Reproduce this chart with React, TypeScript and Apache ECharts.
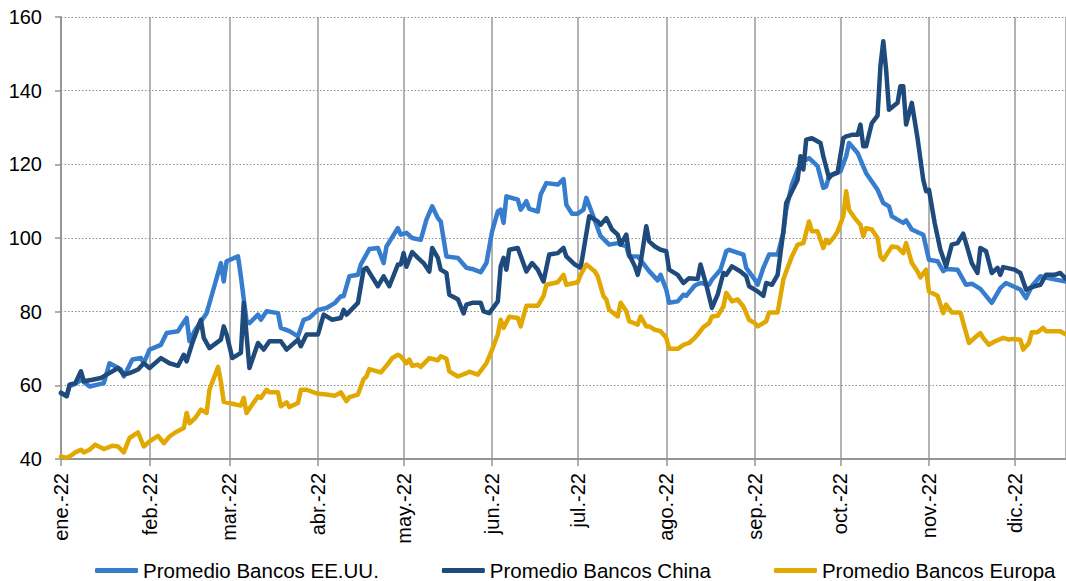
import React, { useEffect, useRef } from 'react';
import * as echarts from 'echarts';

const monthLabels = ['ene.-22', 'feb.-22', 'mar.-22', 'abr.-22', 'may.-22', 'jun.-22', 'jul.-22', 'ago.-22', 'sep.-22', 'oct.-22', 'nov.-22', 'dic.-22'];
const seriesNames = ['Promedio Bancos EE.UU.', 'Promedio Bancos China', 'Promedio Bancos Europa'];
const seriesColors = ['#377DCD', '#1F4A7C', '#E0A800'];
const yMin = 40;
const yMax = 160;
const yStep = 20;
const startDate = [2022, 0, 1];
const endDate = [2022, 11, 19];

// [day of 2022 (0 = 1 Jan), value]
const usPoints: [number, number][] = [[0,57.8],[2,57.2],[3,59.8],[5,60.4],[7,61.5],[10,59.7],[15,60.6],[17,66],[21,64.3],[22,62.4],[25,67],[28,67.4],[29,66],[31,69.7],[35,71],[37,74.2],[41,74.7],[42,76],[44,78.3],[45,72],[47,75],[51,79.6],[53,85],[56,93.2],[57,88.2],[58,93.7],[62,95],[63,89.6],[65,77.4],[66,76.9],[69,79.2],[70,77.8],[72,80.1],[76,79.6],[77,75.6],[80,74.7],[83,73.3],[85,77.8],[87,78.3],[90,80.5],[93,81],[96,82.4],[98,84.2],[99,84.2],[101,89.6],[104,90],[105,92.8],[108,97],[111,97.3],[113,93.2],[114,97.7],[118,102.7],[119,100.9],[121,101.4],[123,100],[126,99.5],[128,105],[130,108.6],[132,105.4],[133,104.5],[135,95],[139,94.6],[142,91.9],[144,91.6],[147,90.7],[149,93.2],[151,101.8],[153,107.2],[154,107.7],[155,104.1],[156,111.3],[160,110.4],[161,107.7],[163,110],[164,107.9],[167,107.2],[168,111.8],[170,114.9],[174,114.5],[176,116],[177,109],[179,106.6],[181,106.6],[183,107.7],[184,110.9],[186,106.8],[189,100.5],[192,98.2],[195,98.6],[198,97.7],[199,95],[202,95],[206,91],[209,88.5],[210,90],[212,86],[213,82.4],[216,82.8],[218,84.6],[219,84.3],[222,87.1],[224,87.8],[227,87.3],[228,88.7],[231,91.4],[233,96.4],[234,96.8],[239,95.5],[240,91.9],[243,88.7],[244,87.3],[246,91.9],[247,93.7],[248,95.5],[251,95.5],[253,101.4],[254,107.7],[256,114.5],[258,118.6],[260,120.8],[262,121.7],[265,119.5],[267,113.6],[268,114],[269,116.7],[273,118.1],[275,122.2],[276,125.8],[279,123.1],[282,117.6],[286,113.1],[288,109.5],[290,108.6],[291,105.9],[293,105],[295,104.1],[296,104.8],[298,102.3],[302,100.9],[304,94.1],[307,93.7],[309,91],[310,91.6],[314,91.4],[317,87.3],[319,87.6],[322,86.2],[326,82.4],[329,86.4],[331,87.8],[336,86],[338,83.7],[340,86.9],[343,89.6],[347,88.9],[352,88.2]];

const chinaPoints: [number, number][] = [[0,58],[2,57],[3,60.2],[5,60.6],[7,63.8],[8,61.1],[11,61.5],[14,62],[16,62.9],[20,64.7],[22,62.9],[24,63.3],[27,64.3],[29,66],[31,64.7],[35,67.4],[38,66],[41,65.3],[43,68.3],[44,66.5],[46,71.5],[49,77.8],[50,72.9],[52,70.1],[56,72.4],[57,76],[58,73.8],[60,67.4],[63,68.8],[64,82.4],[66,64.7],[69,71.5],[71,69.7],[73,72],[77,72],[79,69.7],[83,72.4],[84,70.6],[86,73.8],[90,73.8],[92,79.2],[95,77.8],[98,78.3],[99,80.5],[100,79.2],[104,82.4],[106,91.4],[107,91.9],[111,86.9],[113,89.6],[115,86.9],[118,92.8],[119,92.8],[120,95.9],[121,92.2],[123,96.2],[125,94.6],[127,93.2],[129,90.9],[130,97.3],[132,94.6],[133,91.4],[135,90.5],[136,84.6],[139,83.4],[141,79.5],[142,81.9],[144,82.4],[147,82.4],[148,80.1],[150,79.6],[153,82.8],[154,92.3],[155,94.6],[156,91.4],[157,96.8],[160,97.3],[163,90.9],[165,93.2],[167,91.4],[169,88.2],[171,95.5],[174,95.9],[176,97.3],[177,95],[180,92.8],[182,91.9],[183,96.5],[185,105.9],[188,104.5],[189,103.6],[191,105.4],[193,102.3],[195,100.9],[196,98.2],[198,100.9],[199,95.5],[201,92.3],[202,90],[203,93.2],[205,103.2],[206,99.1],[208,97.7],[210,96.8],[212,96.4],[213,91.4],[216,90],[218,87.8],[220,89.1],[223,88.9],[224,92.8],[226,87.3],[228,81],[230,84.6],[232,90.5],[233,90],[235,92.3],[238,90.9],[240,89.6],[241,86.9],[244,85.5],[246,84.3],[247,87.8],[249,87.3],[251,90],[253,101.8],[254,109.5],[258,115.8],[259,122.2],[260,118.6],[261,126.7],[263,127.1],[266,125.8],[267,122.2],[269,116.3],[270,117.2],[272,117.8],[274,127.1],[275,127.6],[277,128],[279,128],[280,130.8],[281,124.9],[282,124.9],[284,131.2],[286,133.2],[287,146.6],[288,153.4],[289,145.7],[290,134.8],[293,136.7],[294,141.2],[295,141.2],[296,130.8],[298,136.7],[300,127.1],[302,115.8],[303,112.7],[304,113.1],[306,104.1],[308,96.8],[310,92.3],[312,98.2],[314,98.6],[316,101.2],[319,93.2],[321,90.5],[322,97.3],[324,96.4],[326,90.5],[328,91.9],[329,90],[330,92.1],[334,91.4],[336,90.5],[338,86],[341,86.9],[343,87.3],[345,90],[348,90],[350,90.5],[352,88.9]];

const europePoints: [number, number][] = [[0,40.7],[2,40.3],[4,41.2],[5,41.8],[7,42.5],[8,41.8],[10,42.5],[12,43.9],[15,42.7],[18,43.6],[20,43.4],[22,41.8],[24,45.7],[27,47.2],[29,43.4],[31,44.8],[34,46.3],[36,44.3],[38,46.1],[40,47.2],[43,48.4],[44,52.5],[45,49.7],[47,51.1],[49,53.4],[51,52.5],[52,58.8],[55,65],[56,61],[57,55.5],[60,55],[63,54.5],[64,56.6],[65,52.5],[67,54.8],[69,57],[70,56.6],[72,58.8],[73,58.1],[76,58.1],[77,54.3],[79,55.4],[80,54.1],[83,55.2],[84,58.8],[86,58.8],[90,57.7],[93,57.5],[96,57.2],[98,58.1],[100,55.7],[101,56.8],[104,57.5],[106,61.7],[107,62.4],[108,64.4],[112,63.5],[114,65.3],[116,67.4],[118,68.3],[119,67.9],[121,66],[122,67],[123,65.3],[125,65.6],[126,65],[129,67.4],[132,66.8],[133,67.9],[135,67.2],[136,63.8],[139,62.4],[142,63.3],[143,63.7],[146,62.9],[149,66],[151,69.7],[153,73.8],[154,77.8],[155,75.6],[157,78.6],[160,78.3],[161,76],[163,81.6],[167,81.6],[169,84.2],[170,87.3],[174,88],[176,90],[177,87.3],[181,88],[182,90],[184,92.8],[187,90.9],[188,89.6],[190,84.2],[191,83.3],[192,80.5],[195,78.7],[196,82.4],[198,80.1],[199,77.4],[202,76.5],[203,78.7],[205,76],[206,76],[208,75.1],[210,74.7],[212,72.9],[213,69.9],[216,69.9],[218,71],[220,71.5],[222,72.9],[223,73.8],[225,75.8],[227,76.9],[228,78.7],[230,78.9],[232,81.4],[233,85.1],[235,82.8],[237,83.3],[239,81.4],[241,77.8],[243,76.9],[244,76],[247,77.4],[248,79.8],[251,79.8],[253,88.7],[254,90.9],[256,95],[258,98.2],[260,98.6],[262,104.5],[263,101.8],[265,101.8],[267,97.3],[268,99.5],[269,98.6],[271,100.5],[272,101.8],[274,105.9],[275,112.7],[276,107.7],[278,105.4],[280,103.6],[281,100.5],[282,102.7],[284,102.3],[286,100],[287,95],[288,94.1],[291,97.7],[293,97.5],[295,95.9],[296,98.6],[298,93.2],[300,90.9],[301,89.3],[303,91.4],[304,85.5],[307,84.3],[309,79.6],[310,81.9],[312,79.8],[315,79.8],[318,71.5],[320,72.9],[322,74.2],[323,72.9],[325,71],[327,71.9],[330,72.9],[332,72.4],[333,72.6],[336,72.4],[337,69.7],[339,71.5],[340,74.4],[342,74.4],[344,75.6],[345,74.7],[350,74.7],[352,73.8]];

const toTime = (pts: [number, number][]) =>
  pts.map(([d, v]) => [Date.UTC(2022, 0, 1 + d), v]);

const FONT = '"Liberation Sans", Arial, sans-serif';

export default function App() {
  const ref = useRef<HTMLDivElement>(null);

  useEffect(() => {
    if (!ref.current) return;
    const chart = echarts.init(ref.current, undefined, { renderer: 'svg' });
    const allPoints = [usPoints, chinaPoints, europePoints];
    chart.setOption({
      animation: false,
      useUTC: true,
      backgroundColor: '#ffffff',
      textStyle: { fontFamily: FONT },
      grid: { left: 61, right: 0, top: 17, bottom: 122, containLabel: false },
      legend: {
        left: 95,
        top: 560,
        padding: 0,
        itemGap: 63,
        itemWidth: 43,
        itemHeight: 5,
        icon: 'roundRect',
        textStyle: { fontSize: 20.5, color: '#000', fontFamily: FONT },
        data: seriesNames,
      },
      xAxis: {
        type: 'time',
        min: Date.UTC(startDate[0], startDate[1], startDate[2]),
        max: Date.UTC(endDate[0], endDate[1], endDate[2]),
        splitNumber: 12,
        minInterval: 28 * 86400000,
        maxInterval: 31 * 86400000,
        axisLine: { show: true, lineStyle: { color: '#959595', width: 2 } },
        axisTick: { show: true, inside: false, length: 7, lineStyle: { color: '#959595', width: 1.5 } },
        axisLabel: {
          rotate: 90,
          margin: 14,
          fontSize: 20,
          color: '#000',
          fontFamily: FONT,
          hideOverlap: false,
          showMinLabel: true,
          showMaxLabel: false,
          formatter: (val: number) => {
            const d = new Date(val);
            if (d.getUTCDate() !== 1) return '';
            return monthLabels[d.getUTCMonth()];
          },
        },
        splitLine: { show: true, lineStyle: { color: '#9a9a9a', width: 1.5, type: 'solid' } },
      },
      yAxis: {
        type: 'value',
        min: yMin,
        max: yMax,
        interval: yStep,
        axisLine: { show: true, lineStyle: { color: '#959595', width: 2 } },
        axisTick: { show: true, inside: false, length: 6, lineStyle: { color: '#959595', width: 1.5 } },
        axisLabel: { margin: 19, fontSize: 20, color: '#000', fontFamily: FONT },
        splitLine: { show: true, lineStyle: { color: '#8c8c8c', width: 1.2, type: [1.5, 2] } },
      },
      series: seriesNames.map((name, i) => ({
        name,
        type: 'line',
        data: toTime(allPoints[i]),
        showSymbol: false,
        symbol: 'none',
        color: seriesColors[i],
        lineStyle: { width: 4.5, color: seriesColors[i], join: 'round', cap: 'round' },
        itemStyle: { color: seriesColors[i] },
        z: 2 + i,
      })),
    });
    return () => chart.dispose();
  }, []);

  return (
    <div
      ref={ref}
      style={{ position: 'absolute', left: 0, top: 0, width: 1066, height: 581, background: '#fff' }}
    />
  );
}
